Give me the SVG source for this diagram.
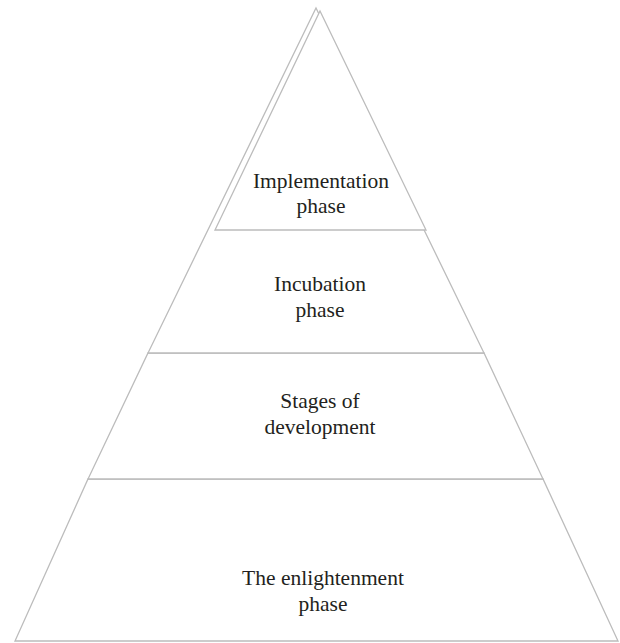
<svg xmlns="http://www.w3.org/2000/svg" width="620" height="643" viewBox="0 0 620 643">
<style>
.shape{fill:#ffffff;stroke:#bcbcbc;stroke-width:1.3;stroke-linejoin:miter}
.lbl{font-family:"Liberation Serif","Times New Roman",serif;font-size:21.5px;fill:#231f20;text-anchor:middle}
</style>
<rect width="620" height="643" fill="#ffffff"/>
<g id="enlightenment">
<polygon class="shape" points="88,479 543,479 618,641 15,641"/>
<text class="lbl" x="323" y="585">The enlightenment</text>
<text class="lbl" x="323" y="611">phase</text>
</g>
<g id="stages">
<polygon class="shape" points="148,353 484,353 543,479 88,479"/>
<text class="lbl" x="320" y="408">Stages of</text>
<text class="lbl" x="320" y="434">development</text>
</g>
<g id="incubation">
<polygon class="shape" points="316,8 484,353 148,353"/>
<text class="lbl" x="320" y="291">Incubation</text>
<text class="lbl" x="320" y="317">phase</text>
</g>
<g id="implementation">
<polygon class="shape" points="320,11 426,230 215,230"/>
<text class="lbl" x="321" y="188">Implementation</text>
<text class="lbl" x="321" y="213">phase</text>
</g>
<g id="connectors"></g>
</svg>
